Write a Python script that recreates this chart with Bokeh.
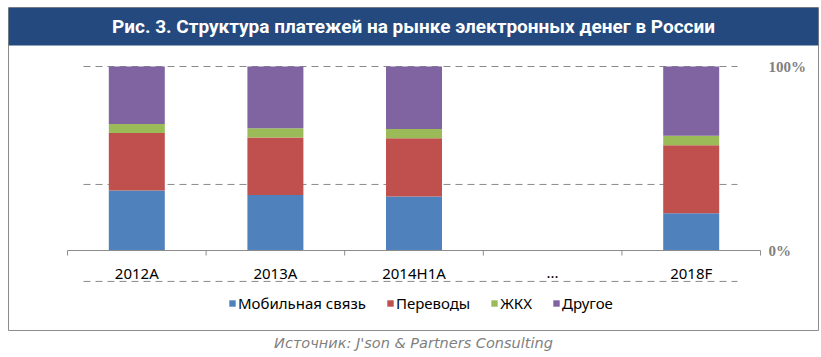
from bokeh.plotting import figure
from bokeh.models import (Range1d, ColumnDataSource, Legend, LegendItem, BoxAnnotation,
                          Label, Title)
from bokeh.core.properties import value
from bokeh.embed import file_html
from bokeh.resources import INLINE

# ---------------- data ----------------
categories = ["2012A", "2013A", "2014H1A", "...", "2018F"]
mobile   = [32.6, 30.1, 29.3, None, 20.3]
transfer = [31.2, 31.3, 31.7, None, 36.9]
housing  = [4.9, 5.1, 5.1, None, 5.1]
other    = [31.3, 33.5, 33.9, None, 37.7]
series_names = ["Мобильная связь", "Переводы", "ЖКХ", "Другое"]
colors = ["#4F81BD", "#C0504D", "#9BBB59", "#8064A2"]
grid_levels = [100, 35.9, -16.8]
right_ticks = [0, 100]
right_labels = ["0%", "100%"]
title_text = "Рис. 3. Структура платежей на рынке электронных денег в России"
source_text = "Источник: J'son & Partners Consulting"

# ---------------- geometry helpers (page px -> data) ----------------
PX_CAT = 138.6     # px per category
X0 = 67.0          # page x of category boundary 0
PX_PCT = 1.84      # px per percent
Y0 = 250.0         # page y of 0%

def X(px):
    return (px - X0) / PX_CAT

def Y(py):
    return (Y0 - py) / PX_PCT

W, H = 821, 357
FL, FR, FT, FB = 8, 818, 7, 330   # frame edges on the page
p = figure(width=W, height=H, output_backend="svg", toolbar_location=None,
           x_range=Range1d(X(FL), X(FR)), y_range=Range1d(Y(FB), Y(FT)),
           min_border_left=FL, min_border_right=W - FR, min_border_top=FT,
           min_border_bottom=H - FB)
p.xaxis.visible = False
p.yaxis.visible = False
p.xgrid.visible = False
p.ygrid.visible = False
p.outline_line_color = "#8C8C8C"
p.outline_line_width = 1
p.background_fill_color = "white"
p.border_fill_color = "white"

# banner
p.add_layout(BoxAnnotation(bottom=Y(45), fill_color="#23497E", fill_alpha=1.0,
                           line_color=None, level="underlay"))
p.add_layout(Label(x=X(413), y=Y(26), text=title_text,
                   text_align="center", text_baseline="middle", text_color="white",
                   text_font="Roboto", text_font_style="bold",
                   text_font_size="19px"))

# dashed lines
for g in grid_levels:
    p.line([X(83), X(737)], [g, g], line_color="#8A8A8A", line_width=1,
           line_dash="7 5")

# bars
idx = [i for i, v in enumerate(mobile) if v is not None]
src = ColumnDataSource(dict(
    x=[i + 0.5 for i in idx],
    mobile=[mobile[i] for i in idx],
    transfer=[transfer[i] for i in idx],
    housing=[housing[i] for i in idx],
    other=[other[i] for i in idx],
))
renderers = p.vbar_stack(["mobile", "transfer", "housing", "other"], x="x", width=0.404,
                         color=colors, line_color=None, source=src)

# axis line and ticks
n = len(categories)
p.line([0, n], [0, 0], line_color="#8C8C8C", line_width=1)
p.segment(x0=list(range(n + 1)), y0=[0] * (n + 1), x1=list(range(n + 1)),
          y1=[Y(255)] * (n + 1), line_color="#8C8C8C", line_width=1)

# category labels
p.text(x=[i + 0.5 for i in range(n)], y=[Y(272)] * n, text=categories,
       text_align="center", text_baseline="middle", text_color="#000000",
       text_font=value("Noto Sans"), text_font_size="15px")

# right labels
p.text(x=[X(768)] * 2, y=right_ticks, text=right_labels, text_align="left",
       text_baseline="middle", text_color="#808080",
       text_font=value("Liberation Serif"), text_font_style="bold",
       text_font_size="15px")

# legend
items = [LegendItem(label=nm, renderers=[r]) for nm, r in zip(series_names, renderers)]
legend = Legend(items=items, orientation="horizontal", location=(220, 17),
                glyph_width=8, glyph_height=8, label_standoff=2, spacing=20,
                padding=0, margin=0, border_line_color=None,
                background_fill_alpha=0, label_text_font="Noto Sans",
                label_text_font_size="15px", label_text_color="#000000",
                label_height=18)
p.add_layout(legend, "center")

# source
p.add_layout(Title(text=source_text, align="center", text_font_style="italic",
                   text_color="#7F7F7F", text_font="DejaVu Sans",
                   text_font_size="14.5px", standoff=4), "below")

open("out.html", "w").write(file_html(p, INLINE))
